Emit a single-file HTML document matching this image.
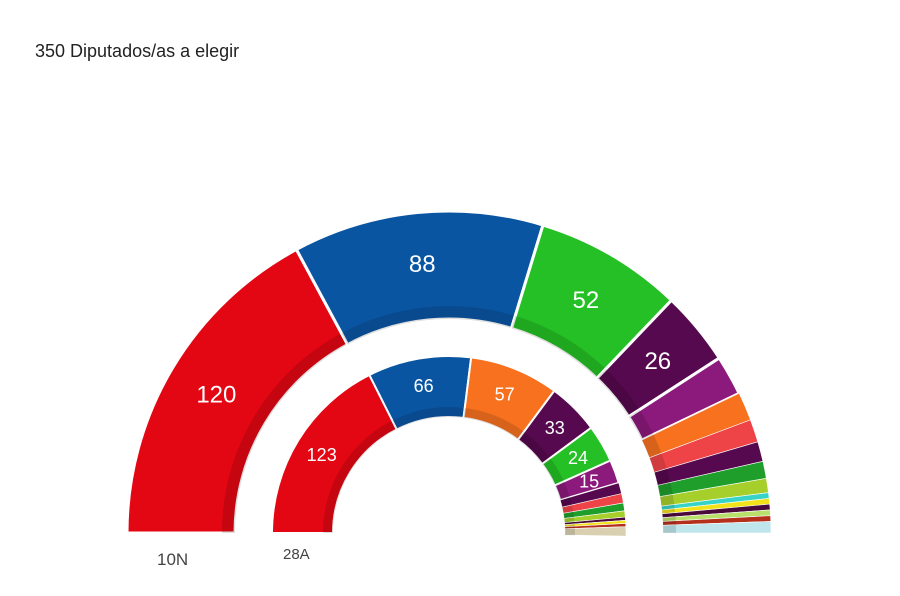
<!DOCTYPE html>
<html><head><meta charset="utf-8"><style>
body{margin:0;background:#fff;width:900px;height:591px;overflow:hidden;font-family:"Liberation Sans",sans-serif}
</style></head><body>
<svg id="s" width="900" height="591" xmlns="http://www.w3.org/2000/svg">
<text x="35" y="57" font-size="18" fill="#222">350 Diputados/as a elegir</text>
<text x="157" y="565" font-size="17" fill="#444">10N</text>
<text x="283" y="559" font-size="15" fill="#444">28A</text>
</svg>
<script>
const cx=449,cy=533,NS="http://www.w3.org/2000/svg",svg=document.getElementById('s');
function pt(r,a){a=a*Math.PI/180;return [cx+r*Math.cos(a),cy-r*Math.sin(a)];}
function arc(R,r,a0,a1){const p1=pt(R,a0),p2=pt(R,a1),p3=pt(r,a1),p4=pt(r,a0);
return `M${p1} A${R},${R} 0 0 1 ${p2} L${p3} A${r},${r} 0 0 0 ${p4}Z`;}
function ring(R,r,band,data,fs,sw){let a=180;
for(const [n,c,lab] of data){const a1=a-n/350*180;
 let p=document.createElementNS(NS,'path');p.setAttribute('d',arc(R,r,a,a1));p.setAttribute('fill',c);
 p.setAttribute('stroke','#fff');p.setAttribute('stroke-width',n>10?sw:0.6);svg.appendChild(p);
 let q=document.createElementNS(NS,'path');q.setAttribute('d',arc(r+band,r,a,a1));q.setAttribute('fill','#000');q.setAttribute('opacity','0.13');svg.appendChild(q);
 if(lab){const m=(a+a1)/2,rr=(R+r)/2+3,P=pt(rr,m);let t=document.createElementNS(NS,'text');
 t.setAttribute('x',P[0]);t.setAttribute('y',P[1]+fs*0.36);t.setAttribute('text-anchor','middle');
 t.setAttribute('font-size',fs);t.setAttribute('fill','#fff');t.textContent=n;svg.appendChild(t);}
 a=a1;}}
ring(322,214,13,[[120,'#e30613',1],[88,'#0a55a2',1],[52,'#25c025',1],[26,'#57094f',1],
[14,'#8b1a7c'],[10,'#f7711f'],[8,'#ee4448'],[7,'#57094f'],[6,'#1f9e2c'],[5,'#a6cf2b'],[2,'#38d3c8'],[2,'#f2e21a'],[2,'#4a0a3a'],[2,'#b9e06a'],[2,'#b5301c'],[4,'#bfe6ec']],24,3);
ring(177,116,10,[[123,'#e30613',1],[66,'#0a55a2',1],[57,'#f7711f',1],[33,'#57094f',1],[24,'#25c025',1],[15,'#8b1a7c',1],
[7,'#57094f'],[6,'#ee4448'],[5,'#1f9e2c'],[4,'#a6cf2b'],[2,'#4a0a3a'],[2,'#f2e21a'],[2,'#b5301c'],[6,'#d8d0b0']],18,2);
</script>
</body></html>
